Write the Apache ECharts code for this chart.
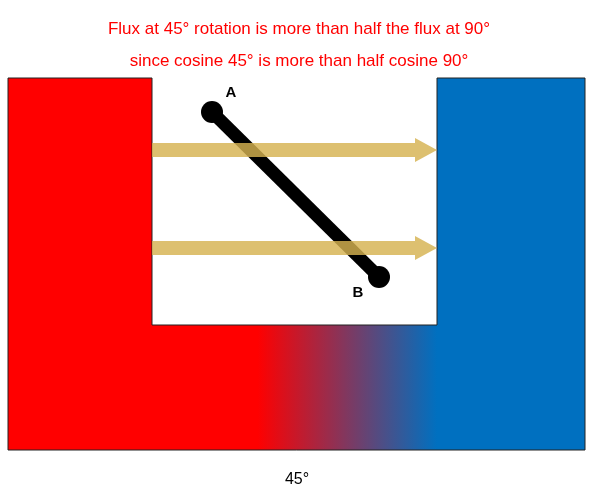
<!DOCTYPE html>
<html><head><meta charset="utf-8">
<script src="https://cdn.jsdelivr.net/npm/echarts@6/dist/echarts.min.js"></script>
<style>html,body{margin:0;padding:0;background:#fff}#c{width:598px;height:494px}</style>
</head><body><div id="c"></div>
<script>
// geometry in diagram units (x right, y down)
const uShape = [[8,78],[152,78],[152,325],[437,325],[437,78],[585,78],[585,450],[8,450]];
const redBlock = [[8,78],[152,78],[152,450],[8,450]];
const blueBlock = [[437,78],[585,78],[585,450],[437,450]];
const gradStrip = [[152,325],[437,325],[437,450],[152,450]];
const arrows = [[152,150,437],[152,248,437]];
const rod = [[212,112],[379,277]];
const labels = [["A",231,93],["B",358,293]];
const titleLines = ["Flux at 45° rotation is more than half the flux at 90°","since cosine 45° is more than half cosine 90°"];
const bottomLabel = "45°";

const chart = echarts.init(document.getElementById('c'));
function poly(api, pts, style){
  return {type:'polygon', shape:{points:pts.map(p=>api.coord(p))}, style};
}
const items = ['red','blue','grad','outline','rod','arrow0','arrow1','labels'];
chart.setOption({
  animation:false,
  title:{text:titleLines.join('\n'),left:'center',top:8,textStyle:{color:'#FF0000',fontSize:17,fontWeight:'normal',lineHeight:32,fontFamily:'Liberation Sans'}},
  grid:{left:0,right:0,top:0,bottom:0},
  xAxis:{type:'value',min:0,max:598,show:false},
  yAxis:{type:'value',min:0,max:494,inverse:true,show:false},
  series:[{type:'custom',coordinateSystem:'cartesian2d',data:items.map((n,i)=>[i]),
    renderItem:function(params,api){
      const k=items[params.dataIndex];
      if(k==='red') return poly(api,redBlock,{fill:'#FF0000'});
      if(k==='blue') return poly(api,blueBlock,{fill:'#0070C0'});
      if(k==='grad') return poly(api,gradStrip,{fill:new echarts.graphic.LinearGradient(0,0,1,0,[{offset:0,color:'#FF0000'},{offset:0.37,color:'#FF0000'},{offset:1,color:'#0070C0'}])});
      if(k==='outline') return poly(api,uShape,{fill:'none',stroke:'#222',lineWidth:1});
      if(k==='rod'){
        const a=api.coord(rod[0]),b=api.coord(rod[1]);
        return {type:'group',children:[
          {type:'line',shape:{x1:a[0],y1:a[1],x2:b[0],y2:b[1]},style:{stroke:'#000',lineWidth:13}},
          {type:'circle',shape:{cx:a[0],cy:a[1],r:11},style:{fill:'#000'}},
          {type:'circle',shape:{cx:b[0],cy:b[1],r:11},style:{fill:'#000'}}]};
      }
      if(k==='arrow0'||k==='arrow1'){
        const ar=arrows[k==='arrow0'?0:1];
        const s=api.coord([ar[0],ar[1]]),e=api.coord([ar[2],ar[1]]);
        const h=7,hh=12,hl=22;
        return {type:'polygon',shape:{points:[[s[0],s[1]-h],[e[0]-hl,s[1]-h],[e[0]-hl,s[1]-hh],[e[0],s[1]],[e[0]-hl,s[1]+hh],[e[0]-hl,s[1]+h],[s[0],s[1]+h]]},
          style:{fill:'rgba(214,178,80,0.82)'}};
      }
      if(k==='labels'){
        const ch=labels.map(l=>{const p=api.coord([l[1],l[2]]);return {type:'text',x:p[0],y:p[1],style:{text:l[0],fill:'#000',font:'bold 15px Liberation Sans',align:'center',verticalAlign:'middle'}};});
        const p=api.coord([297,480]);
        ch.push({type:'text',x:p[0],y:p[1],style:{text:bottomLabel,fill:'#000',font:'16px Liberation Sans',align:'center',verticalAlign:'middle'}});
        return {type:'group',children:ch};
      }
    }}]
});
</script></body></html>
